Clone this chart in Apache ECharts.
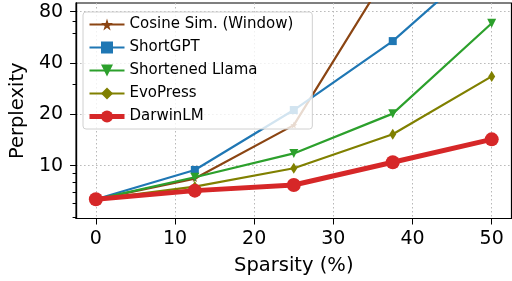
<!DOCTYPE html>
<html>
<head>
<meta charset="utf-8">
<script src="https://cdn.jsdelivr.net/npm/echarts@6/dist/echarts.min.js"></script>
<style>
  html, body { margin: 0; padding: 0; background: #fff; }
  #chart { width: 512px; height: 281px; }
</style>
</head>
<body>
<div id="chart"></div>
<script>
var sparsity = [0, 12.5, 25, 37.5, 50];
var cosineSim = [6.35, 8.4, 17.3, 150, 600];
var shortGPT = [6.35, 9.44, 21.2, 53.8, 175];
var shortenedLlama = [6.35, 8.55, 11.8, 20.2, 68.5];
var evoPress = [6.35, 7.54, 9.66, 15.3, 33.4];
var darwinLM = [6.35, 7.14, 7.71, 10.47, 14.27];
var yMajorTicks = [10, 20, 40, 80];
var yMinorTicks = [5, 6, 7, 8, 9, 30, 60, 70];
var xTicks = [0, 10, 20, 30, 40, 50];

// log2 axis done by hand so that ticks can sit at 10, 20, 40, 80
function t(v) { return Math.log2(v); }
function pts(vals) { return sparsity.map(function (x, i) { return [x, t(vals[i])]; }); }

var font = 'DejaVu Sans';
var starPath = 'path://M50,0 L61,35 L98,35 L68,57 L79,91 L50,70 L21,91 L32,57 L2,35 L39,35 Z';

var myChart = echarts.init(document.getElementById('chart'));
var baseY = {
    type: 'value',
    position: 'left',
    min: t(4.9),
    max: t(90),
    axisLine: { show: true, onZero: false, lineStyle: { color: '#000', width: 1.2 } }
};
var option = {
    animation: false,
    grid: {
        left: 74.5, right: 0.5, top: 3, bottom: 62.5,
        show: true, borderColor: '#000', borderWidth: 1.2, backgroundColor: 'transparent'
    },
    xAxis: {
        type: 'value',
        min: -2.5,
        max: 52.5,
        name: 'Sparsity (%)',
        nameLocation: 'middle',
        nameGap: 37,
        nameTextStyle: { fontFamily: font, fontSize: 19.5, color: '#000' },
        axisLine: { onZero: false, lineStyle: { color: '#000', width: 1.2 } },
        axisTick: { customValues: xTicks, length: 6, lineStyle: { color: '#000' } },
        axisLabel: { customValues: xTicks, margin: 11, fontFamily: font, fontSize: 19, color: '#000' },
        splitLine: { show: true, lineStyle: { color: '#b8b8b8', width: 1, type: [1.5, 2.5] } }
    },
    yAxis: [
        Object.assign({}, baseY, {
            name: 'Perplexity',
            nameLocation: 'middle',
            nameGap: 48,
            nameTextStyle: { fontFamily: font, fontSize: 19.5, color: '#000' },
            axisTick: { customValues: yMajorTicks.map(t), length: 6, lineStyle: { color: '#000' } },
            axisLabel: {
                customValues: yMajorTicks.map(t), margin: 13,
                fontFamily: font, fontSize: 19, color: '#000',
                formatter: function (v) { return Math.round(Math.pow(2, v)); }
            },
            splitLine: { show: true, lineStyle: { color: '#b8b8b8', width: 1, type: [1.5, 2.5] } }
        }),
        Object.assign({}, baseY, {
            offset: 0,
            axisTick: { customValues: yMinorTicks.map(t), length: 3.5, lineStyle: { color: '#000' } },
            axisLabel: { show: false },
            splitLine: { show: false }
        })
    ],
    legend: {
        left: 83,
        top: 12,
        orient: 'vertical',
        padding: [5, 19, 5, 4],
        itemGap: 8,
        itemWidth: 35,
        itemHeight: 15,
        backgroundColor: 'rgba(255,255,255,0.8)',
        borderColor: '#d0d0d0',
        borderWidth: 1,
        borderRadius: 3,
        textStyle: { fontFamily: font, fontSize: 15, color: '#000' },
        data: ['Cosine Sim. (Window)', 'ShortGPT', 'Shortened Llama', 'EvoPress',
            { name: 'DarwinLM', lineStyle: { width: 5 } }]
    },
    series: [
        {
            name: 'Cosine Sim. (Window)', type: 'line', data: pts(cosineSim),
            symbol: starPath, symbolSize: 7,
            color: '#8b4513', lineStyle: { width: 2.2 }, z: 2
        },
        {
            name: 'ShortGPT', type: 'line', data: pts(shortGPT),
            symbol: 'rect', symbolSize: 8,
            color: '#1f77b4', lineStyle: { width: 2.2 }, z: 3
        },
        {
            name: 'Shortened Llama', type: 'line', data: pts(shortenedLlama),
            symbol: 'triangle', symbolRotate: 180, symbolSize: 9,
            color: '#2ca02c', lineStyle: { width: 2.2 }, z: 4
        },
        {
            name: 'EvoPress', type: 'line', data: pts(evoPress),
            symbol: 'diamond', symbolSize: [7, 11],
            color: '#808000', lineStyle: { width: 2.2 }, z: 5
        },
        {
            name: 'DarwinLM', type: 'line', data: pts(darwinLM),
            symbol: 'circle', symbolSize: 14,
            color: '#d62728', lineStyle: { width: 5 }, z: 6
        }
    ]
};
myChart.setOption(option);
</script>
</body>
</html>
